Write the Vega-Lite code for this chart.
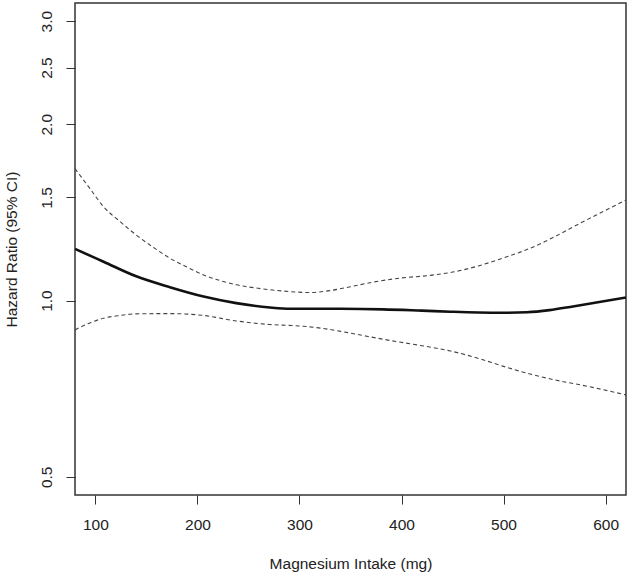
{
  "$schema": "https://vega.github.io/schema/vega-lite/v6.json",
  "autosize": "none",
  "width": 551,
  "height": 492,
  "padding": {"left": 75, "top": 3, "right": 4, "bottom": 80},
  "background": "white",
  "config": {
    "view": {"stroke": "#333", "strokeWidth": 1.5},
    "font": "Liberation Sans",
    "axis": {
      "grid": false,
      "domain": false,
      "tickColor": "#333",
      "tickSize": 9,
      "tickWidth": 1,
      "labelFont": "Liberation Sans",
      "labelFontSize": 15.5,
      "labelColor": "#222",
      "titleFont": "Liberation Sans",
      "titleFontSize": 15.5,
      "titleFontWeight": "normal",
      "titleColor": "#222"
    }
  },
  "datasets": {
    "est": [
      {"x": 80, "hr": 1.225}, {"x": 108, "hr": 1.165}, {"x": 140, "hr": 1.10},
      {"x": 173, "hr": 1.054}, {"x": 206, "hr": 1.016}, {"x": 238, "hr": 0.99},
      {"x": 271, "hr": 0.973}, {"x": 291, "hr": 0.968}, {"x": 340, "hr": 0.968},
      {"x": 382, "hr": 0.966}, {"x": 420, "hr": 0.961}, {"x": 448, "hr": 0.957},
      {"x": 475, "hr": 0.954}, {"x": 500, "hr": 0.953}, {"x": 523, "hr": 0.955},
      {"x": 545, "hr": 0.963}, {"x": 568, "hr": 0.977}, {"x": 591, "hr": 0.992}, {"x": 620, "hr": 1.012}
    ],
    "ci": [
      {"x": 80, "hr": 1.68, "s": "hi"}, {"x": 95, "hr": 1.55, "s": "hi"}, {"x": 108, "hr": 1.446, "s": "hi"},
      {"x": 124, "hr": 1.365, "s": "hi"},
      {"x": 140, "hr": 1.294, "s": "hi"}, {"x": 157, "hr": 1.232, "s": "hi"}, {"x": 173, "hr": 1.181, "s": "hi"},
      {"x": 190, "hr": 1.14, "s": "hi"},
      {"x": 206, "hr": 1.106, "s": "hi"}, {"x": 222, "hr": 1.082, "s": "hi"}, {"x": 238, "hr": 1.064, "s": "hi"},
      {"x": 262, "hr": 1.048, "s": "hi"}, {"x": 290, "hr": 1.036, "s": "hi"},
      {"x": 310, "hr": 1.032, "s": "hi"}, {"x": 330, "hr": 1.04, "s": "hi"},
      {"x": 350, "hr": 1.056, "s": "hi"}, {"x": 372, "hr": 1.075, "s": "hi"},
      {"x": 398, "hr": 1.092, "s": "hi"}, {"x": 428, "hr": 1.104, "s": "hi"},
      {"x": 452, "hr": 1.12, "s": "hi"}, {"x": 477, "hr": 1.148, "s": "hi"},
      {"x": 500, "hr": 1.183, "s": "hi"}, {"x": 526, "hr": 1.228, "s": "hi"},
      {"x": 550, "hr": 1.285, "s": "hi"}, {"x": 575, "hr": 1.355, "s": "hi"},
      {"x": 598, "hr": 1.42, "s": "hi"}, {"x": 620, "hr": 1.485, "s": "hi"},
      {"x": 80, "hr": 0.891, "s": "lo"}, {"x": 94, "hr": 0.915, "s": "lo"}, {"x": 108, "hr": 0.933, "s": "lo"},
      {"x": 124, "hr": 0.943, "s": "lo"},
      {"x": 140, "hr": 0.949, "s": "lo"}, {"x": 173, "hr": 0.95, "s": "lo"},
      {"x": 206, "hr": 0.943, "s": "lo"}, {"x": 238, "hr": 0.923, "s": "lo"},
      {"x": 271, "hr": 0.910, "s": "lo"}, {"x": 295, "hr": 0.906, "s": "lo"}, {"x": 317, "hr": 0.899, "s": "lo"},
      {"x": 342, "hr": 0.885, "s": "lo"}, {"x": 366, "hr": 0.869, "s": "lo"},
      {"x": 390, "hr": 0.854, "s": "lo"}, {"x": 415, "hr": 0.840, "s": "lo"},
      {"x": 448, "hr": 0.820, "s": "lo"}, {"x": 477, "hr": 0.795, "s": "lo"},
      {"x": 500, "hr": 0.772, "s": "lo"}, {"x": 526, "hr": 0.749, "s": "lo"},
      {"x": 550, "hr": 0.732, "s": "lo"}, {"x": 575, "hr": 0.718, "s": "lo"},
      {"x": 598, "hr": 0.704, "s": "lo"}, {"x": 620, "hr": 0.690, "s": "lo"}
    ]
  },
  "layer": [
    {
      "data": {"name": "ci"},
      "mark": {"type": "line", "clip": true, "color": "#444", "strokeWidth": 1.1, "strokeDash": [4, 3], "interpolate": "monotone"},
      "encoding": {
        "x": {
          "field": "x", "type": "quantitative",
          "scale": {"domain": [80, 620], "nice": false, "zero": false},
          "axis": {"values": [100, 200, 300, 400, 500, 600], "title": "Magnesium Intake (mg)", "labelPadding": 13, "titlePadding": 24, "labelFlush": false}
        },
        "y": {
          "field": "hr", "type": "quantitative",
          "scale": {"type": "log", "domain": [0.4655, 3.222], "nice": false},
          "axis": {"values": [0.5, 1, 1.5, 2, 2.5, 3], "format": ".1f", "labelAngle": -90, "labelAlign": "center", "labelBaseline": "bottom", "labelPadding": 12, "title": "Hazard Ratio (95% CI)", "titlePadding": 20, "labelFlush": false}
        },
        "detail": {"field": "s"}
      }
    },
    {
      "data": {"name": "est"},
      "mark": {"type": "line", "clip": true, "color": "#111", "strokeWidth": 2.6, "interpolate": "monotone"},
      "encoding": {
        "x": {"field": "x", "type": "quantitative"},
        "y": {"field": "hr", "type": "quantitative"}
      }
    }
  ]
}
